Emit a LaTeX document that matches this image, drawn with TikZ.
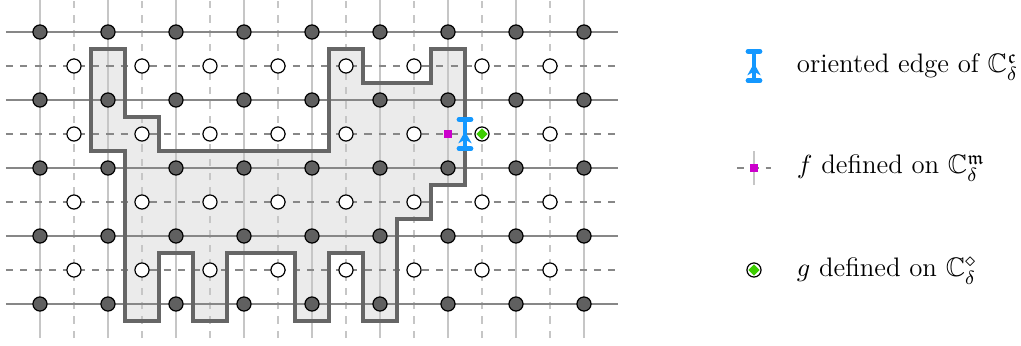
\documentclass[tikz,border=0pt]{standalone}
\usepackage{amssymb}
\usetikzlibrary{arrows.meta,decorations.markings,shapes.geometric}
\definecolor{edgeblue}{RGB}{20,152,255}
\definecolor{fmag}{RGB}{204,0,204}
\definecolor{ggreen}{RGB}{60,205,0}
\definecolor{regionfill}{RGB}{235,235,235}
\definecolor{regionline}{RGB}{102,102,102}
\definecolor{darkv}{RGB}{96,96,96}
\definecolor{hgray}{RGB}{135,135,135}
\definecolor{vgray}{RGB}{198,198,198}
\begin{document}
\begin{tikzpicture}[x=0.5cm,y=0.5cm,
  hline/.style={draw=hgray, line width=0.5pt},
  vline/.style={draw=vgray, line width=0.85pt},
  regionborder/.style={draw=regionline, line width=1.4pt, line join=miter},
  primal/.style={circle, draw=black, fill=darkv, minimum size=5.9pt, inner sep=0pt, line width=0.5pt},
  dualv/.style={circle, draw=black, fill=white, minimum size=5.9pt, inner sep=0pt, line width=0.5pt},
  fsq/.style={rectangle, fill=fmag, minimum size=3.4pt, inner sep=0pt},
  gdia/.style={diamond, fill=ggreen, minimum size=4.8pt, inner sep=0pt},
  orient/.style={draw=edgeblue, line width=2pt, line cap=round,
    {Bar[width=5pt,line cap=round]}-{Bar[width=5pt,line cap=round]},
    postaction={decorate},
    decoration={markings, mark=at position 0.58 with {\arrow{Stealth[length=5pt,width=5.5pt,inset=1.5pt]}}}},
  legtext/.style={anchor=base west, inner sep=0pt, font=\fontsize{11.2}{13}\selectfont}
]
\clip (-1.176,-1.206) rectangle (28.853,8.941);
% region fill
\def\regionpath{(1.5,7.5) -- (2.5,7.5) -- (2.5,5.5) -- (3.5,5.5) -- (3.5,4.5) -- (8.5,4.5) -- (8.5,7.5) -- (9.5,7.5) -- (9.5,6.5) -- (11.5,6.5) -- (11.5,7.5) -- (12.5,7.5) -- (12.5,3.5) -- (11.5,3.5) -- (11.5,2.5) -- (10.5,2.5) -- (10.5,-0.5) -- (9.5,-0.5) -- (9.5,1.5) -- (8.5,1.5) -- (8.5,-0.5) -- (7.5,-0.5) -- (7.5,1.5) -- (5.5,1.5) -- (5.5,-0.5) -- (4.5,-0.5) -- (4.5,1.5) -- (3.5,1.5) -- (3.5,-0.5) -- (2.5,-0.5) -- (2.5,4.5) -- (1.5,4.5) -- cycle}
\fill[regionfill] \regionpath;
% grid
\foreach \x in {0,2,...,16} \draw[vline] (\x,-1) -- (\x,9.3);
\foreach \x in {1,3,...,15} \draw[vline,dashed] (\x,-1) -- (\x,9.3);
\foreach \y in {0,2,...,8} \draw[hline] (-1,\y) -- (17,\y);
\foreach \y in {1,3,5,7} \draw[hline,dashed] (-1,\y) -- (17,\y);
% region border
\draw[regionborder] \regionpath;
% vertices
\foreach \i in {0,...,8} \foreach \j in {0,...,4} \node[primal] (p-\i-\j) at (2*\i,2*\j) {};
\foreach \i in {0,...,7} \foreach \j in {0,...,3} \node[dualv] (d-\i-\j) at (2*\i+1,2*\j+1) {};
% f and g
\node[fsq] (f) at (12,5) {};
\node[gdia] (g) at (d-6-2) {};
% oriented edge
\coordinate (ea) at (12.5,4.5);
\coordinate (eb) at (12.5,5.5);
\draw[orient] (ea) -- (eb);
% legend
\coordinate (la) at (21,6.5);
\coordinate (lb) at (21,7.5);
\draw[orient] (la) -- (lb);
\node[legtext] (t1) at (22.25,6.8) {oriented edge of $\mathbb{C}^{\mathfrak{c}}_\delta$};
\coordinate (lv1) at (21,3.5);
\coordinate (lv2) at (21,4.5);
\coordinate (lh1) at (20.5,4);
\coordinate (lh2) at (21.5,4);
\draw[vline] (lv1) -- (lv2);
\draw[hline,dashed] (lh1) -- (lh2);
\node[fsq] (lf) at (21,4) {};
\node[legtext] (t2) at (22.25,3.83) {$f$ defined on $\mathbb{C}^{\mathfrak{m}}_\delta$};
\node[dualv] (lgc) at (21,1) {};
\node[gdia] (lg) at (lgc) {};
\node[legtext] (t3) at (22.25,0.82) {$g$ defined on $\mathbb{C}^{\diamond}_\delta$};
\end{tikzpicture}
\end{document}
